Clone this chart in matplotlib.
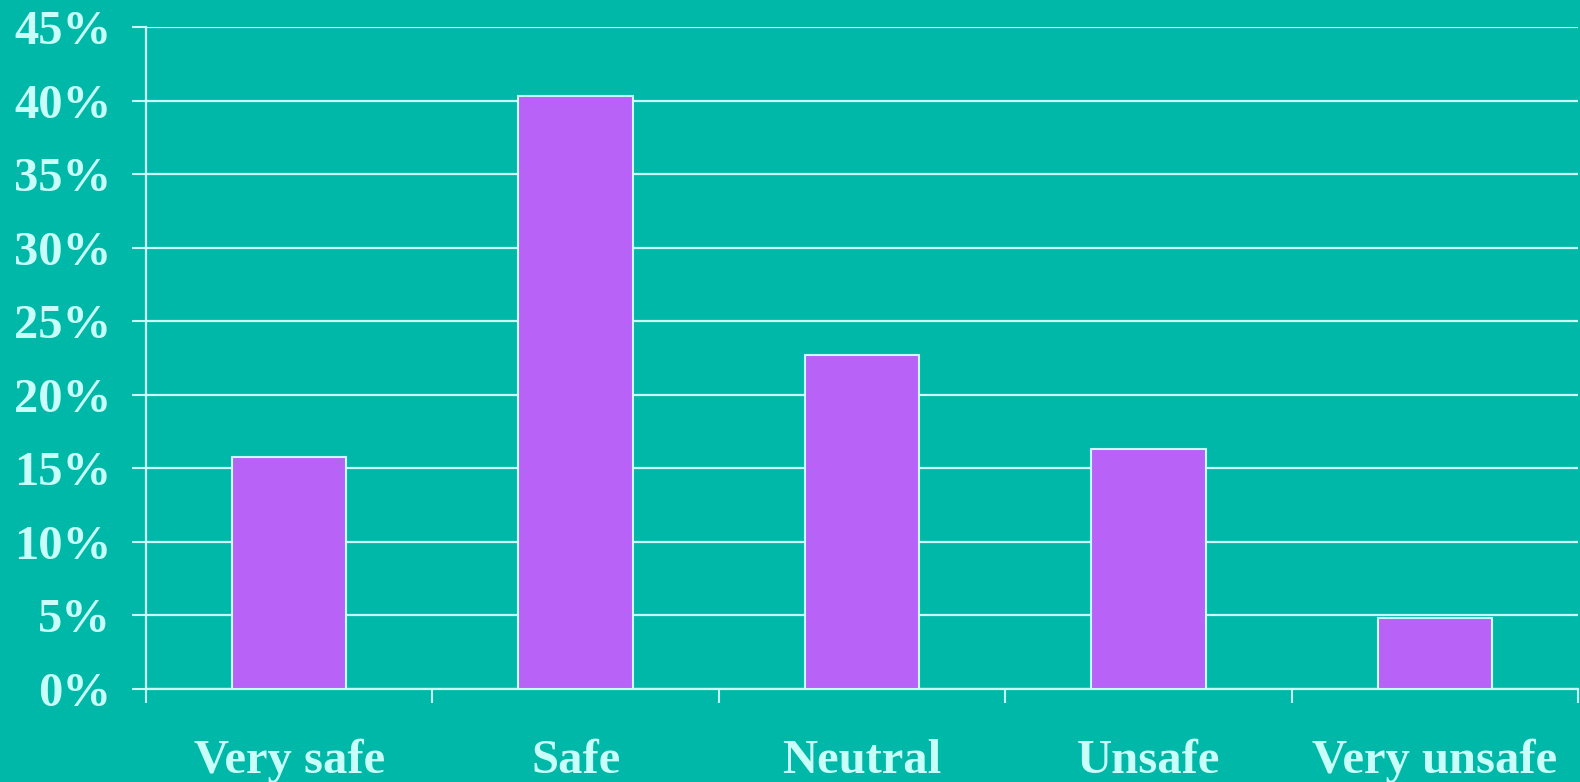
import numpy as np
import matplotlib
matplotlib.use("Agg")
import matplotlib.pyplot as plt
from matplotlib.ticker import FixedLocator

# data
categories = ["Very safe", "Safe", "Neutral", "Unsafe", "Very unsafe"]
shares = [15.8, 40.3, 22.7, 16.3, 4.8]
yticks = [0, 5, 10, 15, 20, 25, 30, 35, 40, 45]

bg = "#00B8A8"
fg = "#C8FFF8"
bar_col = "#B862F8"

plt.rcParams["font.family"] = ["Liberation Serif", "DejaVu Serif"]
plt.rcParams["font.weight"] = "bold"

fig = plt.figure(figsize=(15.8, 7.82), dpi=100, facecolor=bg)
ax = fig.add_axes((146 / 1580, 1 - 689 / 782, 1432 / 1580, (689 - 27.3) / 782))
ax.set_facecolor(bg)

x = np.arange(len(categories))
ax.bar(x, shares, width=0.4, color=bar_col, edgecolor=fg, linewidth=1.5, zorder=3)

ax.set_xlim(-0.5, len(categories) - 0.5)
ax.set_ylim(0, 45)

# grid
ax.set_yticks(yticks)
ax.set_yticklabels(["%d%%" % v for v in yticks])
ax.yaxis.grid(True, color=fg, linewidth=1.6, zorder=0)
ax.set_axisbelow(True)

# category labels at centres, tick marks at boundaries
ax.set_xticks(x)
ax.set_xticklabels(categories)
ax.xaxis.set_minor_locator(FixedLocator(np.arange(len(categories) + 1) - 0.5))
ax.tick_params(axis="x", which="major", length=0, pad=36, labelsize=35, labelcolor=fg)
ax.tick_params(axis="x", which="minor", length=10, width=1.5, color=fg, direction="out")
ax.tick_params(axis="y", length=10, width=1.5, color=fg, pad=15, labelsize=35, labelcolor=fg)

for s in ["top", "right"]:
    ax.spines[s].set_visible(False)
for s in ["left", "bottom"]:
    ax.spines[s].set_color(fg)
    ax.spines[s].set_linewidth(1.6)

fig.savefig("out.png", dpi=100, facecolor=bg)
